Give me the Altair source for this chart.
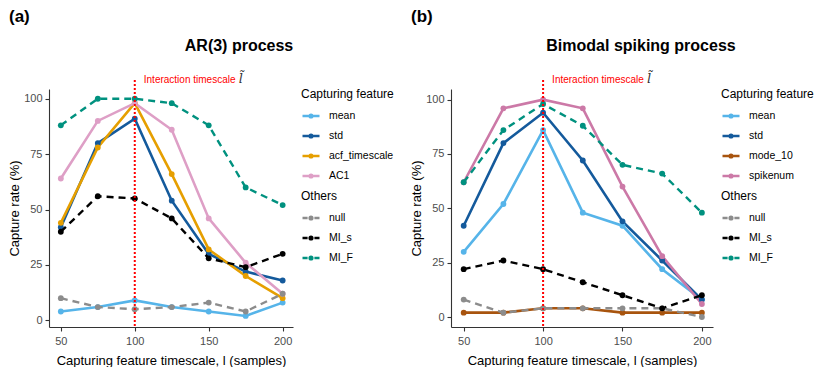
import altair as alt
import pandas as pd

x_vals = [50, 75, 100, 125, 150, 175, 200]

# Panel (a): AR(3) process
a_feat_names = ["mean", "std", "acf_timescale", "AC1"]
a_mean = [4, 6, 9, 6, 4, 2, 8]
a_std = [42, 80, 91, 54, 30, 22, 18]
a_acf = [44, 78, 98, 66, 32, 20, 10]
a_ac1 = [64, 90, 98, 86, 46, 26, 12]
a_null = [10, 6, 5, 6, 8, 4, 12]
a_mis = [40, 56, 55, 46, 28, 24, 30]
a_mif = [88, 100, 100, 98, 88, 60, 52]

# Panel (b): Bimodal spiking process
b_feat_names = ["mean", "std", "mode_10", "spikenum"]
b_mean = [30, 52, 86, 48, 42, 22, 8]
b_std = [42, 80, 94, 72, 44, 26, 8]
b_mode = [2, 2, 4, 4, 2, 2, 2]
b_spike = [62, 96, 100, 96, 60, 28, 6]
b_null = [8, 2, 4, 4, 4, 4, 0]
b_mis = [22, 26, 22, 16, 10, 4, 10]
b_mif = [62, 86, 98, 88, 70, 66, 48]

other_names = ["null", "MI_s", "MI_F"]
other_colors = ["#8C8C8C", "#000000", "#00917F"]
a_feat_colors = ["#56B4E9", "#145A9C", "#E69F00", "#DE9FC6"]
b_feat_colors = ["#56B4E9", "#145A9C", "#A8540E", "#CC79A7"]

x_ticks = [50, 100, 150, 200]
y_ticks = [0, 25, 50, 75, 100]

LINE_SYM = "M-1,0L1,0M-0.15,0A0.15,0.15 0 1,1 0.15,0A0.15,0.15 0 1,1 -0.15,0"
DASH_SYM = "M-1,0L-0.4,0M0.4,0L1,0M-0.15,0A0.15,0.15 0 1,1 0.15,0A0.15,0.15 0 1,1 -0.15,0"


def long_df(names, series):
    rows = []
    for n, s in zip(names, series):
        for x, v in zip(x_vals, s):
            rows.append({"l": x, "rate": v, "series": n})
    return pd.DataFrame(rows)


def panel(title, tag, feat_names, feat_series, feat_colors, other_series,
          width, ydom):
    height = 238
    xenc = alt.X("l:Q",
                 scale=alt.Scale(domain=[42, 207], nice=False, zero=False),
                 axis=alt.Axis(values=x_ticks,
                               title="Capturing feature timescale, l (samples)"))
    yenc = alt.Y("rate:Q",
                 scale=alt.Scale(domain=ydom, nice=False, zero=False),
                 axis=alt.Axis(values=y_ticks, title="Capture rate (%)"))

    df_f = long_df(feat_names, feat_series)
    df_o = long_df(other_names, other_series)

    cf = alt.Color("series:N",
                   scale=alt.Scale(domain=feat_names, range=feat_colors),
                   sort=feat_names,
                   legend=alt.Legend(title="Capturing feature",
                                     symbolType=LINE_SYM))
    co = alt.Color("series:N",
                   scale=alt.Scale(domain=other_names, range=other_colors),
                   sort=other_names,
                   legend=alt.Legend(title="Others", symbolType=DASH_SYM))

    base_f = alt.Chart(df_f).encode(x=xenc, y=yenc, color=cf)
    f_layer = alt.layer(
        base_f.mark_line(strokeWidth=2.6),
        base_f.mark_circle(size=34, opacity=1),
    )
    base_o = alt.Chart(df_o).encode(x=xenc, y=yenc, color=co)
    o_layer = alt.layer(
        base_o.mark_line(strokeWidth=2.4, strokeDash=[7, 5]),
        base_o.mark_circle(size=34, opacity=1),
    )

    vline = pd.DataFrame({"l": [100], "t": ["Interaction timescale"],
                          "s": ["l\u0303"]})
    rule = alt.Chart(vline).mark_rule(
        color="#FF0000", strokeDash=[2, 2], strokeWidth=2
    ).encode(x=xenc, y=alt.value(-9), y2=alt.value(height))
    ann = alt.Chart(vline).mark_text(
        align="left", baseline="alphabetic", dx=9, color="#FF0000",
        fontSize=10
    ).encode(x=xenc, y=alt.value(-6), text="t:N")
    ann_sym = alt.Chart(vline).mark_text(
        align="left", baseline="alphabetic", dx=104, color="#333333",
        fontSize=13, font="DejaVu Serif", fontStyle="italic"
    ).encode(x=xenc, y=alt.value(-6), text="s:N")

    labels = pd.DataFrame({"tag": [tag], "title": [title]})
    tag_m = alt.Chart(labels).mark_text(
        align="left", baseline="top", fontSize=17, fontWeight="bold",
        color="black"
    ).encode(x=alt.value(-40), y=alt.value(-80), text="tag:N")
    title_m = alt.Chart(labels).mark_text(
        align="center", baseline="alphabetic", fontSize=16,
        fontWeight="bold", color="black"
    ).encode(x=alt.value(190), y=alt.value(-38), text="title:N")

    return alt.layer(f_layer, o_layer, rule, ann, ann_sym, tag_m,
                     title_m).resolve_scale(
        color="independent"
    ).properties(width=width, height=height)


pa = panel("AR(3) process", "(a)", a_feat_names,
           [a_mean, a_std, a_acf, a_ac1], a_feat_colors,
           [a_null, a_mis, a_mif], 244, [-3, 104.4])
pb = panel("Bimodal spiking process", "(b)", b_feat_names,
           [b_mean, b_std, b_mode, b_spike], b_feat_colors,
           [b_null, b_mis, b_mif], 262, [-4.6, 104.9])

chart = alt.hconcat(pa, pb, spacing=16).properties(
    padding=0
).configure_view(stroke=None).configure_axis(
    grid=False, domainColor="#333333", domainWidth=1.1, tickColor="#333333",
    tickSize=4, tickWidth=1.1, labelColor="#4D4D4D", labelFontSize=11,
    labelFont="Liberation Sans", titleFont="Liberation Sans",
    titleFontSize=13, titleFontWeight="normal", titleColor="black"
).configure_axisX(labelPadding=4, titlePadding=8).configure_axisY(
    labelPadding=3, titlePadding=2
).configure_legend(
    titleFont="Liberation Sans", titleFontSize=12, titleFontWeight="normal",
    titleColor="black", labelFont="Liberation Sans", labelFontSize=10.5,
    labelColor="black", symbolSize=289, symbolStrokeWidth=2.6, offset=8,
    rowPadding=3, titlePadding=5, labelOffset=8
).configure_text(font="Liberation Sans")

chart.save("out.html", embed_options={"renderer": "svg", "actions": False})
